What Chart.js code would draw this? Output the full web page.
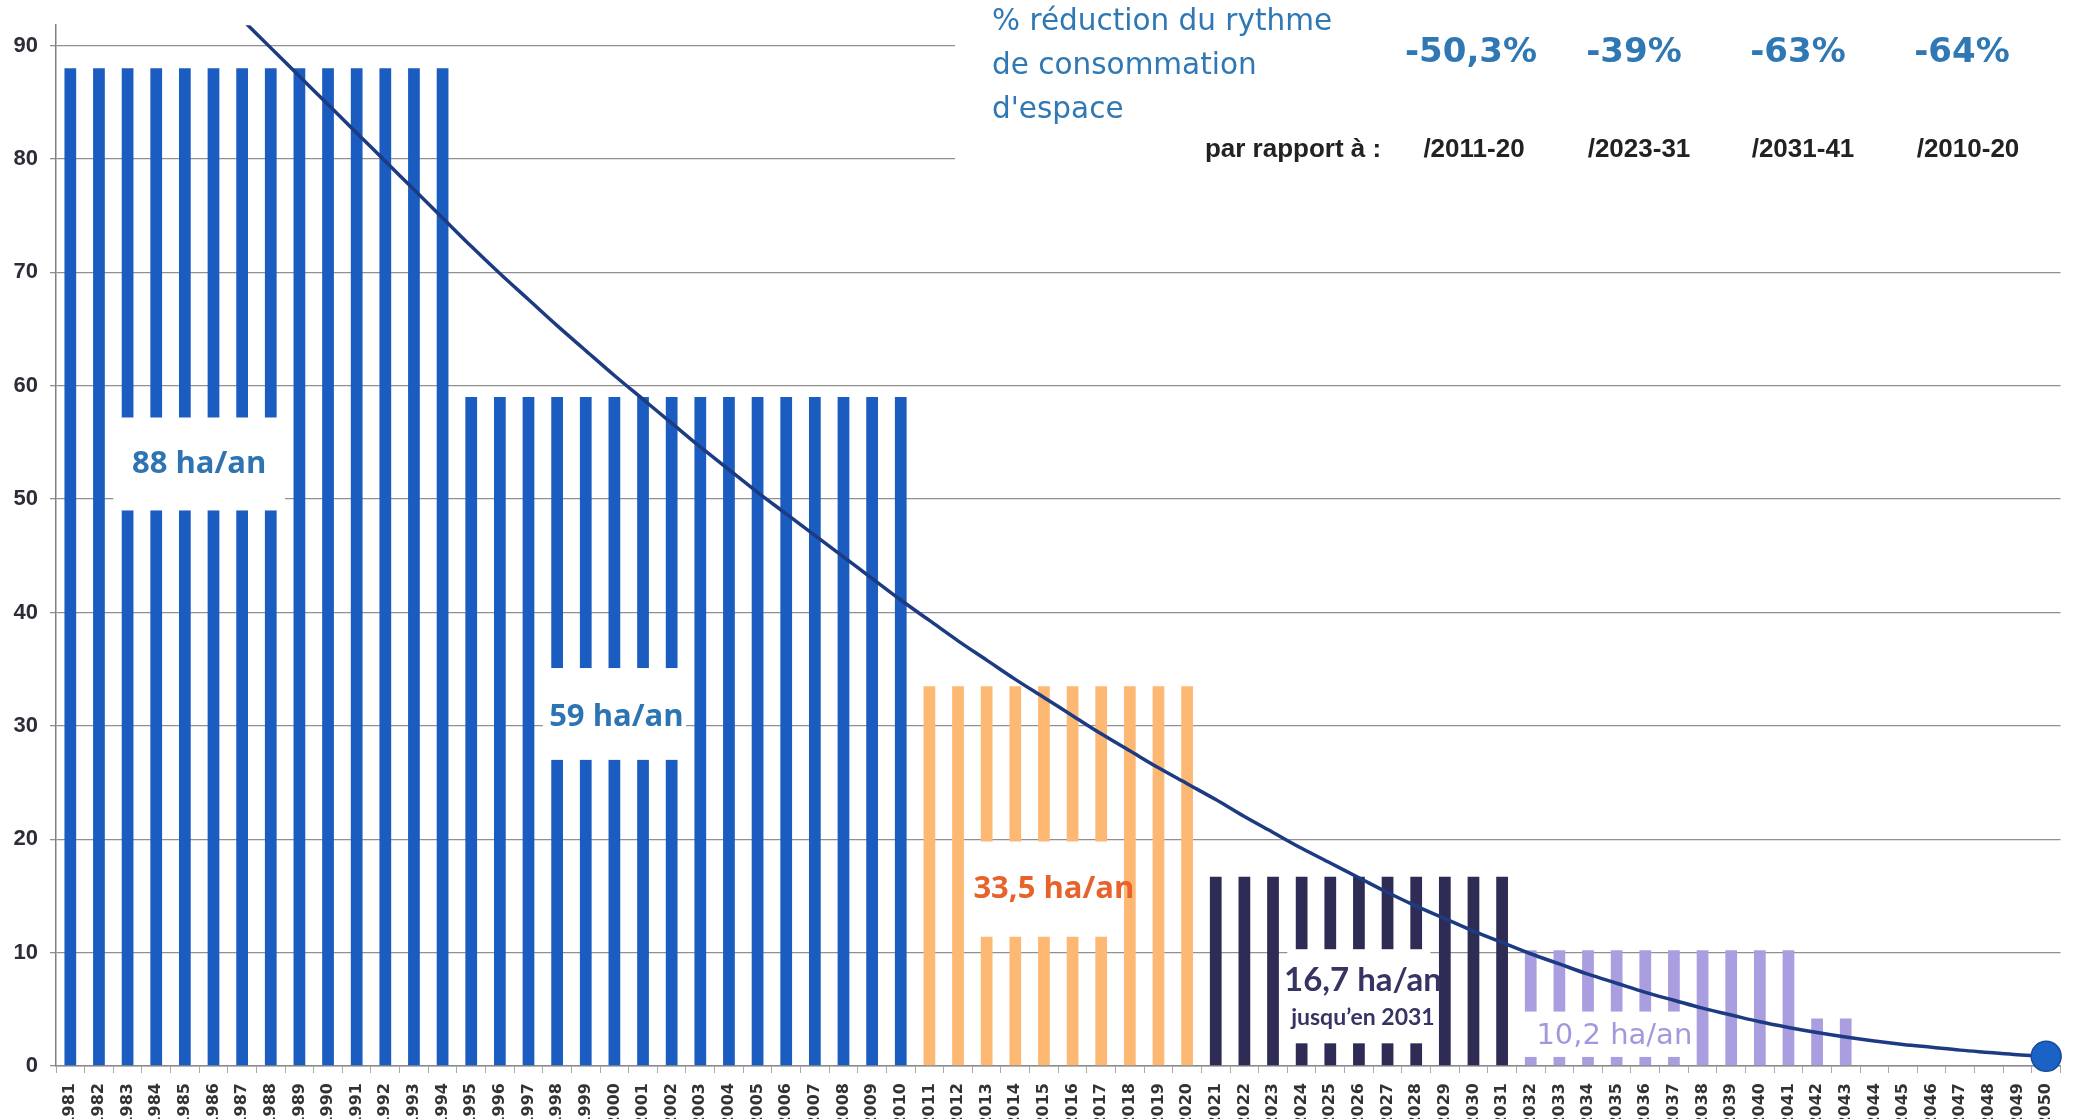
<!DOCTYPE html>
<html><head><meta charset="utf-8">
<script src="https://cdn.jsdelivr.net/npm/chart.js@4.4.1/dist/chart.umd.min.js"></script>
<style>html,body{margin:0;padding:0;background:#fff;overflow:hidden}#wrap{width:2077px;height:1119px;position:relative}</style>
</head><body><div id="wrap"><canvas id="c" width="2077" height="1119"></canvas></div>
<script>
// ---------- DATA ----------
const years = ['1981','1982','1983','1984','1985','1986','1987','1988','1989','1990',
'1991','1992','1993','1994','1995','1996','1997','1998','1999','2000',
'2001','2002','2003','2004','2005','2006','2007','2008','2009','2010',
'2011','2012','2013','2014','2015','2016','2017','2018','2019','2020',
'2021','2022','2023','2024','2025','2026','2027','2028','2029','2030',
'2031','2032','2033','2034','2035','2036','2037','2038','2039','2040',
'2041','2042','2043','2044','2045','2046','2047','2048','2049','2050'];

// annual land consumption (ha/an)
const consumption = [88,88,88,88,88,88,88,88,88,88,88,88,88,88,
59,59,59,59,59,59,59,59,59,59,59,59,59,59,59,59,
33.5,33.5,33.5,33.5,33.5,33.5,33.5,33.5,33.5,33.5,
16.7,16.7,16.7,16.7,16.7,16.7,16.7,16.7,16.7,16.7,16.7,
10.2,10.2,10.2,10.2,10.2,10.2,10.2,10.2,10.2,10.2,
4.2,4.2,null,null,null,null,null,null,null];

// trajectory curve
const trajectory = [null,null,null,null,null,null,
92.3,89.8,87.3,84.8,82.3,79.8,77.3,74.8,
72.3,69.9,67.6,65.3,63.1,60.9,58.8,
56.7,54.6,52.6,50.6,48.7,46.8,44.9,43.0,41.1,
39.3,37.5,35.8,34.1,32.5,30.9,29.3,27.8,26.3,24.9,
23.5,22.0,20.6,19.2,17.9,16.6,15.3,14.1,13.0,11.9,10.9,
9.9,9.0,8.1,7.3,6.5,5.8,5.1,4.5,3.9,3.4,
2.95,2.55,2.2,1.9,1.65,1.4,1.2,1.0,0.85];

const yTicks = [0,10,20,30,40,50,60,70,80,90];

// periods (for colours)
const periods = [
  {from:'1981', to:'1994', color:'#1b5cc0'},
  {from:'1995', to:'2010', color:'#1b5cc0'},
  {from:'2011', to:'2020', color:'#fdb973'},
  {from:'2021', to:'2031', color:'#2e2c54'},
  {from:'2032', to:'2050', color:'#aa9ee0'}
];

// label boxes (category range + value range)
const labelBoxes = [
  {from:'1983', to:'1988', top:57.2, bottom:49.0, lines:['88 ha/an'], color:'#2e74b3', fonts:['bold 31px "Open Sans"'], offsets:[0], dx:0},
  {from:'1998', to:'2002', top:35.1, bottom:27.0, lines:['59 ha/an'], color:'#2e74b3', fonts:['bold 31px "Open Sans"'], offsets:[3], dx:2},
  {from:'2013', to:'2017', top:19.8, bottom:11.4, lines:['33,5 ha/an'], color:'#e8622c', fonts:['bold 31px "Open Sans"'], offsets:[0], dx:10},
  {from:'2024', to:'2028', top:10.3, bottom:2.0, lines:['16,7 ha/an','jusqu\u2019en 2031'], color:'#363463', fonts:['bold 33px Lato','bold 23px Lato'], offsets:[-16,21], dx:4},
  {from:'2032', to:'2037', top:4.8, bottom:0.8, lines:['10,2 ha/an'], color:'#a597dc', fonts:['29px "DejaVu Sans"'], offsets:[2], dx:12}
];

// header texts
const headerLines = ['% réduction du rythme','de consommation','d\'espace'];
const reductions = ['-50,3%','-39%','-63%','-64%'];
const references = ['/2011-20','/2023-31','/2031-41','/2010-20'];

// ---------- STYLE / LAYOUT ----------
const barColors = years.map(y => {
  const p = periods.find(p => y >= p.from && y <= p.to);
  return p ? p.color : '#999';
});
const pointRadii = trajectory.map((v,i) => i === trajectory.length-1 ? 15 : 0);

const header = {
  box:{x:955, y:0, w:1122, h:200},
  lineX:992, lineY:[22,66,110], lineFont:'29.5px "DejaVu Sans"', blue:'#2f78b4',
  pctX:[1471,1634,1798,1962], pctY:53, pctFont:'bold 34px "DejaVu Sans"',
  refX:[1474,1639,1803,1968], refY:150, refFont:'bold 26px "Liberation Sans"', dark:'#222',
  parX:1293, parText:'par rapport à :'
};

const annotPlugin = {
  id:'annot',
  beforeDatasetsDraw(chart){
    const ctx = chart.ctx;
    ctx.save();
    ctx.fillStyle = '#fff';
    ctx.fillRect(header.box.x, header.box.y, header.box.w, header.box.h);
    ctx.restore();
  },
  afterDatasetDraw(chart, args){
    if (args.index !== 0) return;
    const ctx = chart.ctx, xs = chart.scales.x, ys = chart.scales.y;
    const step = xs.getPixelForValue(1) - xs.getPixelForValue(0);
    ctx.save();
    labelBoxes.forEach(b => {
      const x0 = xs.getPixelForValue(years.indexOf(b.from)) - step/2;
      const x1 = xs.getPixelForValue(years.indexOf(b.to)) + step/2;
      const y0 = ys.getPixelForValue(b.top), y1 = ys.getPixelForValue(b.bottom);
      ctx.fillStyle = '#fff';
      ctx.fillRect(x0, y0, x1-x0, y1-y0);
      const cx = (x0+x1)/2 + b.dx, cy = (y0+y1)/2;
      ctx.fillStyle = b.color;
      ctx.textAlign = 'center';
      ctx.textBaseline = 'middle';
      b.lines.forEach((t,i) => {
        ctx.font = b.fonts[i];
        ctx.fillText(t, cx, cy + b.offsets[i]);
      });
    });
    ctx.restore();
  },
  afterDraw(chart){
    const ctx = chart.ctx;
    ctx.save();
    ctx.textBaseline = 'middle';
    ctx.fillStyle = header.blue;
    ctx.font = header.lineFont;
    ctx.textAlign = 'left';
    headerLines.forEach((t,i) => ctx.fillText(t, header.lineX, header.lineY[i]));
    ctx.font = header.pctFont;
    ctx.textAlign = 'center';
    reductions.forEach((t,i) => ctx.fillText(t, header.pctX[i], header.pctY));
    ctx.fillStyle = header.dark;
    ctx.font = header.refFont;
    ctx.fillText(header.parText, header.parX, header.refY);
    references.forEach((t,i) => ctx.fillText(t, header.refX[i], header.refY));
    ctx.restore();
  }
};

new Chart(document.getElementById('c'), {
  data:{
    labels: years,
    datasets:[
      {type:'bar', data:consumption, backgroundColor:barColors, borderWidth:0,
       barPercentage:0.41, categoryPercentage:1.0, order:1},
      {type:'line', data:trajectory, borderColor:'#1d3b82', borderWidth:3.5, tension:0.35,
       pointRadius:pointRadii, pointHoverRadius:pointRadii, pointBackgroundColor:'#1a62c6',
       pointBorderColor:'#1b4a98', pointBorderWidth:1.5, fill:false, spanGaps:false,
       clip:{left:0, top:0, right:20, bottom:20}, order:0}
    ]
  },
  options:{
    responsive:false, animation:false, devicePixelRatio:1,
    layout:{padding:{top:12, right:2, left:0, bottom:0}},
    plugins:{legend:{display:false}, tooltip:{enabled:false}},
    scales:{
      x:{
        type:'category', offset:true,
        grid:{display:true, drawOnChartArea:false, drawTicks:true, tickLength:7, color:'#a8a8a8', offset:true},
        border:{display:true, color:'#8a8a8a', width:1.5},
        ticks:{autoSkip:false, minRotation:90, maxRotation:90, padding:10,
               font:{family:'DejaVu Sans', weight:'bold', size:16}, color:'#333'},
        afterFit(s){ s.height = 53; }
      },
      y:{
        min:0, max:91.8,
        grid:{color:'#909090', lineWidth:1.3, tickLength:6},
        border:{display:true, color:'#808080', width:1.5},
        ticks:{stepSize:10, includeBounds:false, padding:12,
               font:{family:'Liberation Sans', weight:'bold', size:22}, color:'#2d2d3a'},
        afterBuildTicks(s){ s.ticks = yTicks.map(v => ({value:v})); },
        afterFit(s){ s.width = 56; }
      }
    }
  },
  plugins:[annotPlugin]
});
</script>
</body></html>
